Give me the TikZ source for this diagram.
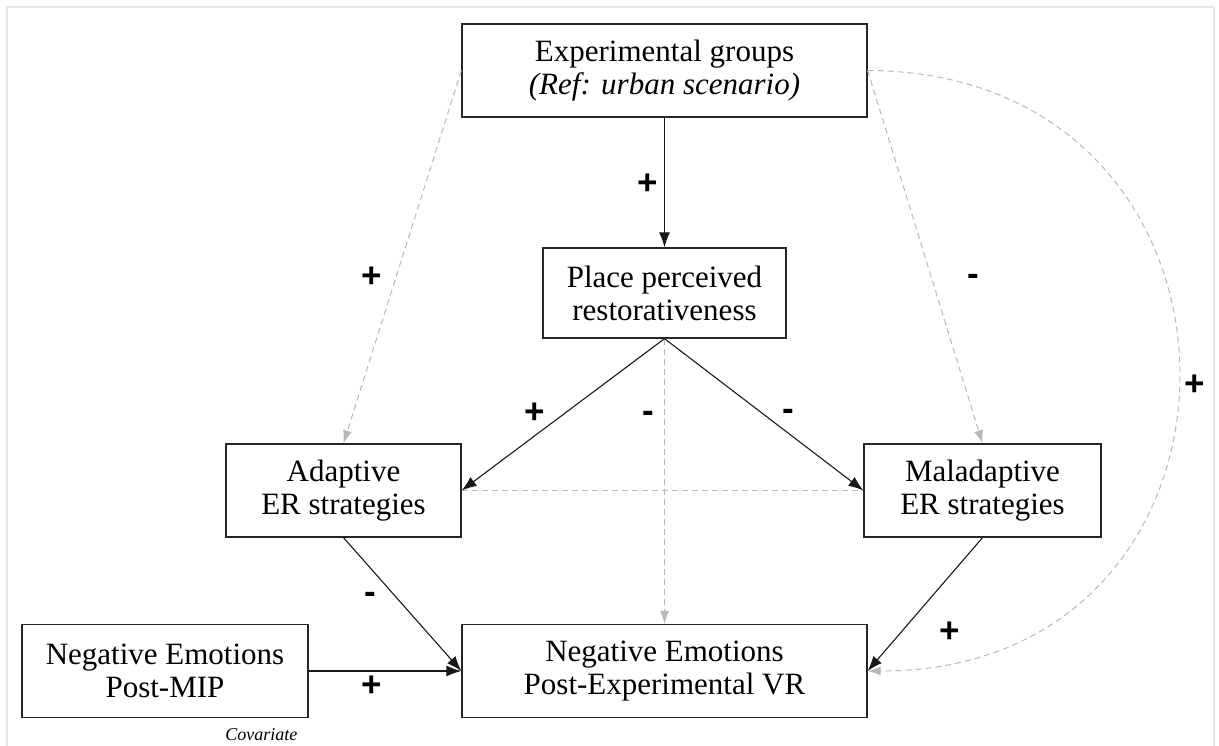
\documentclass[tikz,border=0pt]{standalone}
\usepackage{fontspec}
\setmainfont{Liberation Serif}
\newfontfamily\signfont{Liberation Sans}
\usetikzlibrary{arrows.meta}
\begin{document}
\begin{tikzpicture}[x=1pt,y=-1pt,
  box/.style={draw=black!85,line width=1.3pt,minimum width=#1,minimum height=93pt,
    align=center,inner sep=0pt,font=\fontsize{31}{33}\selectfont},
  solid arrow/.style={draw=black!90,line width=1.1pt,-{Latex[length=15pt,width=11pt]}},
  dashed link/.style={draw=black!28,line width=1pt,dash pattern=on 6pt off 4pt},
  dashed arrow/.style={dashed link,-{Latex[length=13pt,width=9pt]}},
  sign/.style={font=\signfont\bfseries\fontsize{35}{35}\selectfont,inner sep=0pt}]
\useasboundingbox (0,0) rectangle (1219,745);
% light outer frame
\draw[black!10,line width=1.5pt] (7,800) -- (7,7) -- (1214,7) -- (1214,800);

% boxes
\node[box=405pt] (exp) at (664.5,70.5) {Experimental groups\\\textit{(Ref: urban scenario)}};
\node[box=243pt,minimum height=90pt] (place) at (664.5,293) {Place perceived\\restorativeness};
\node[box=235pt] (adapt) at (343.5,490.5) {Adaptive\\ER strategies};
\node[box=237pt] (malad) at (982.5,490.5) {Maladaptive\\ER strategies};
\node[box=405pt] (out) at (664.5,671) {Negative Emotions\\Post-Experimental VR};
\node[box=286pt] (mip) at (165,671) {Negative Emotions\\Post-MIP};
\node[font=\itshape\fontsize{18}{18}\selectfont,anchor=base east] (cov) at (301,740) {Covariate};

% dashed grey paths
\draw[dashed arrow] (exp.west) -- (adapt.north);
\draw[dashed arrow] (exp.east) -- (malad.north);
\draw[dashed arrow] (place.south) -- (out.north);
\draw[dashed link] (adapt.east) -- (malad.west);
\draw[dashed arrow] (exp.east) .. controls (1282,72) and (1282,672) .. (out.east);

% solid paths
\draw[solid arrow] (exp.south) -- (place.north);
\draw[solid arrow] (place.south) -- (adapt.east);
\draw[solid arrow] (place.south) -- (malad.west);
\draw[solid arrow] (adapt.south) -- (out.west);
\draw[solid arrow] (malad.south) -- (out.east);
\draw[solid arrow] (mip.east) -- (out.west);

% signs
\node[sign] (s1) at (648,184) {+};
\node[sign] (s2) at (372,277) {+};
\node[sign] (s3) at (973,280) {-};
\node[sign] (s4) at (535,413) {+};
\node[sign] (s5) at (648,417) {-};
\node[sign] (s6) at (788,415) {-};
\node[sign] (s7) at (1195,385) {+};
\node[sign] (s8) at (370,598) {-};
\node[sign] (s9) at (950,632) {+};
\node[sign] (s10) at (372,686) {+};
\end{tikzpicture}
\end{document}
